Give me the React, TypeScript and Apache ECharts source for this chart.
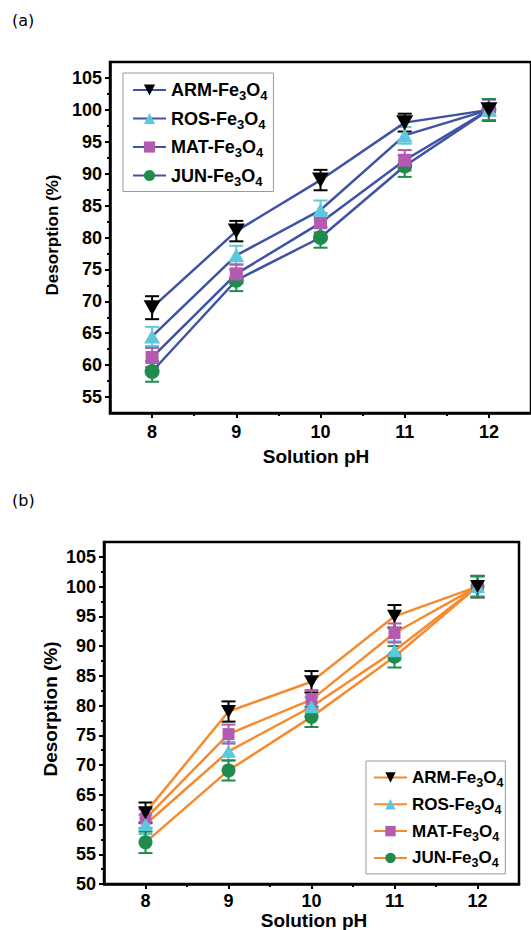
import React, { useEffect, useRef } from 'react';
import * as echarts from 'echarts';

// ---------- data ----------
const pH = [8, 9, 10, 11, 12];
const materials = ['ARM', 'ROS', 'MAT', 'JUN'];

// panel (a)
const armA = [69, 81, 89, 98, 100];
const rosA = [64.5, 77.2, 84.3, 96, 100];
const matA = [61.2, 74.3, 82.3, 92.1, 100];
const junA = [59, 73.3, 80, 91.2, 100];
const armAErr = [1.8, 1.6, 1.6, 1.4, 1.7];
const rosAErr = [1.5, 1.5, 1.5, 1.3, 1.6];
const matAErr = [1.5, 1.5, 1.5, 1.6, 1.6];
const junAErr = [1.6, 1.7, 1.6, 1.7, 1.7];

// panel (b)
const armB = [62, 79, 84, 95, 100];
const rosB = [60, 72.3, 79.8, 89.2, 100];
const matB = [61, 75.2, 81, 92.2, 100];
const junB = [57, 69.1, 78.1, 88.2, 100];
const armBErr = [1.7, 1.7, 1.8, 1.9, 1.8];
const rosBErr = [1.6, 1.6, 1.6, 1.6, 1.6];
const matBErr = [1.6, 1.6, 1.6, 1.6, 1.8];
const junBErr = [1.8, 1.7, 1.7, 1.8, 1.8];

// ticks
const xMajor = [8, 9, 10, 11, 12];
const xMinor = [8.5, 9.5, 10.5, 11.5];
const yMajorA = [55, 60, 65, 70, 75, 80, 85, 90, 95, 100, 105];
const yMinorA = [57.5, 62.5, 67.5, 72.5, 77.5, 82.5, 87.5, 92.5, 97.5, 102.5];
const yMajorB = [50, 55, 60, 65, 70, 75, 80, 85, 90, 95, 100, 105];
const yMinorB = [52.5, 57.5, 62.5, 67.5, 72.5, 77.5, 82.5, 87.5, 92.5, 97.5, 102.5];

const FONT = '"Liberation Sans", Arial, Helvetica, sans-serif';
const markerColors = ['#000000', '#5BC8DD', '#B25BB0', '#1F8B4C'];
const symbols = ['triangle', 'triangle', 'rect', 'circle'];
const rotates = [180, 0, 0, 0];
const BLUE = '#3E52A6';
const ORANGE = '#F68B2E';

function makeAxes(grid: number, yMin: number, yMajor: number[], yMinor: number[], fs: number, xMargin: number) {
  const lineStyle = { color: '#000', width: 2.5 };
  const xs = [
    {
      gridIndex: grid, type: 'value', min: 7.5, max: 12.5, position: 'bottom',
      axisLine: { show: true, onZero: false, lineStyle },
      axisTick: { show: true, customValues: xMajor, length: 5, lineStyle: { color: '#000', width: 2 } },
      axisLabel: { show: true, customValues: xMajor, fontSize: fs, fontWeight: 'bold', color: '#000', fontFamily: FONT, margin: xMargin },
      splitLine: { show: false },
    },
    {
      gridIndex: grid, type: 'value', min: 7.5, max: 12.5, position: 'bottom',
      axisLine: { show: false },
      axisTick: { show: true, customValues: xMinor, length: 3, lineStyle: { color: '#000', width: 2 } },
      axisLabel: { show: false },
      splitLine: { show: false },
    },
  ];
  const ys = [
    {
      gridIndex: grid, type: 'value', min: yMin, max: 107.5, position: 'left',
      axisLine: { show: true, onZero: false, lineStyle },
      axisTick: { show: true, customValues: yMajor, length: 5, lineStyle: { color: '#000', width: 2 } },
      axisLabel: { show: true, customValues: yMajor, fontSize: fs, fontWeight: 'bold', color: '#000', fontFamily: FONT, margin: 8 },
      splitLine: { show: false },
    },
    {
      gridIndex: grid, type: 'value', min: yMin, max: 107.5, position: 'left',
      axisLine: { show: false },
      axisTick: { show: true, customValues: yMinor, length: 3, lineStyle: { color: '#000', width: 2 } },
      axisLabel: { show: false },
      splitLine: { show: false },
    },
  ];
  return { xs, ys };
}

function errorSeries(name: string, axis: number, vals: number[], errs: number[], color: string) {
  return {
    name,
    type: 'custom',
    xAxisIndex: axis,
    yAxisIndex: axis,
    z: 2,
    silent: true,
    encode: { x: 0, y: 1 },
    data: pH.map((x, i) => [x, vals[i], errs[i]]),
    renderItem: (_params: any, api: any) => {
      const x = api.value(0);
      const y = api.value(1);
      const e = api.value(2);
      const top = api.coord([x, y + e]);
      const bot = api.coord([x, y - e]);
      const hw = 7;
      const style = { stroke: color, lineWidth: 2, fill: null };
      return {
        type: 'group',
        children: [
          { type: 'line', shape: { x1: top[0], y1: top[1], x2: bot[0], y2: bot[1] }, style },
          { type: 'line', shape: { x1: top[0] - hw, y1: top[1], x2: top[0] + hw, y2: top[1] }, style },
          { type: 'line', shape: { x1: bot[0] - hw, y1: bot[1], x2: bot[0] + hw, y2: bot[1] }, style },
        ],
      };
    },
  };
}

function lineSeries(name: string, axis: number, vals: number[], idx: number, lineColor: string, sizes: any[]) {
  return {
    name,
    type: 'line',
    xAxisIndex: axis,
    yAxisIndex: axis,
    z: 3,
    data: pH.map((x, i) => [x, vals[i]]),
    symbol: symbols[idx],
    symbolRotate: rotates[idx],
    symbolSize: sizes[idx],
    itemStyle: { color: markerColors[idx], borderWidth: 0 },
    lineStyle: { color: lineColor, width: 2.5 },
  };
}

const legendFormatter = (name: string) => {
  const m = name.split(':')[1];
  return `{b|${m}-Fe}{s|3}{b|O}{s|4}`;
};

export default function App() {
  const ref = useRef<HTMLDivElement>(null);
  useEffect(() => {
    if (!ref.current) return;
    const chart = echarts.init(ref.current, undefined, { renderer: 'svg' });
    const a = makeAxes(0, 52.5, yMajorA, yMinorA, 18, 10);
    const b = makeAxes(1, 50, yMajorB, yMinorB, 18, 8);
    const valsA = [armA, rosA, matA, junA];
    const errsA = [armAErr, rosAErr, matAErr, junAErr];
    const valsB = [armB, rosB, matB, junB];
    const errsB = [armBErr, rosBErr, matBErr, junBErr];
    const sizesA = [[17, 15], [16, 14], 13, 15];
    const sizesB = [[15, 13], [15, 13], 12, 14];
    const namesA = materials.map((m) => 'a:' + m);
    const namesB = materials.map((m) => 'b:' + m);

    const series: any[] = [];
    materials.forEach((_m, i) => {
      series.push(errorSeries('errA' + i, 0, valsA[i], errsA[i], markerColors[i]));
      series.push(errorSeries('errB' + i, 2, valsB[i], errsB[i], markerColors[i]));
    });
    for (let i = 3; i >= 0; i--) {
      series.push(lineSeries(namesA[i], 0, valsA[i], i, BLUE, sizesA));
      series.push(lineSeries(namesB[i], 2, valsB[i], i, ORANGE, sizesB));
    }

    const legendText = (fs: number, sub: number, lh: number) => ({
      color: '#000',
      fontFamily: FONT,
      fontWeight: 'bold',
      fontSize: fs,
      rich: {
        b: { fontSize: fs, fontWeight: 'bold', fontFamily: FONT, color: '#000', lineHeight: lh },
        s: { fontSize: sub, fontWeight: 'bold', fontFamily: FONT, color: '#000', verticalAlign: 'bottom', lineHeight: lh },
      },
    });

    chart.setOption({
      animation: false,
      backgroundColor: '#fff',
      grid: [
        { left: 110, top: 62, width: 429, height: 351, show: true, borderColor: '#000', borderWidth: 2.5, containLabel: false },
        { left: 104, top: 542, width: 415, height: 342, show: true, borderColor: '#000', borderWidth: 2.5, containLabel: false },
      ],
      xAxis: [...a.xs, ...b.xs],
      yAxis: [...a.ys, ...b.ys],
      legend: [
        {
          data: namesA, left: 123, top: 73, orient: 'vertical',
          itemWidth: 33, itemHeight: 14, itemGap: 7.5,
          padding: [8, 6, 4, 9], borderColor: '#9a9a9a', borderWidth: 1,
          formatter: legendFormatter, textStyle: legendText(18, 13, 24),
          selectedMode: false,
        },
        {
          data: namesB, left: 366, top: 761, orient: 'vertical',
          itemWidth: 33, itemHeight: 13, itemGap: 6.3,
          padding: [8, 2, 4, 7], borderColor: '#9a9a9a', borderWidth: 1,
          formatter: legendFormatter, textStyle: legendText(17, 12.5, 24),
          selectedMode: false,
        },
      ],
      graphic: [
        { type: 'text', left: 12, top: 12, style: { text: '(a)', fontSize: 16, fontFamily: '"DejaVu Sans", sans-serif', fill: '#000' } },
        { type: 'text', left: 12, top: 492, style: { text: '(b)', fontSize: 16, fontFamily: '"DejaVu Sans", sans-serif', fill: '#000' } },
        { type: 'text', x: 316, y: 456, style: { text: 'Solution pH', fontSize: 19, fontWeight: 'bold', fontFamily: FONT, fill: '#000', align: 'center', verticalAlign: 'middle' } },
        { type: 'text', x: 314, y: 920, style: { text: 'Solution pH', fontSize: 19, fontWeight: 'bold', fontFamily: FONT, fill: '#000', align: 'center', verticalAlign: 'middle' } },
        { type: 'text', x: 52, y: 235, rotation: Math.PI / 2, style: { text: 'Desorption (%)', fontSize: 17, fontWeight: 'bold', fontFamily: FONT, fill: '#000', align: 'center', verticalAlign: 'middle' } },
        { type: 'text', x: 50, y: 709, rotation: Math.PI / 2, style: { text: 'Desorption (%)', fontSize: 19, fontWeight: 'bold', fontFamily: FONT, fill: '#000', align: 'center', verticalAlign: 'middle' } },
      ],
      series,
    });
    return () => chart.dispose();
  }, []);
  return <div ref={ref} style={{ position: 'fixed', left: 0, top: 0, width: 531, height: 930 }} />;
}
